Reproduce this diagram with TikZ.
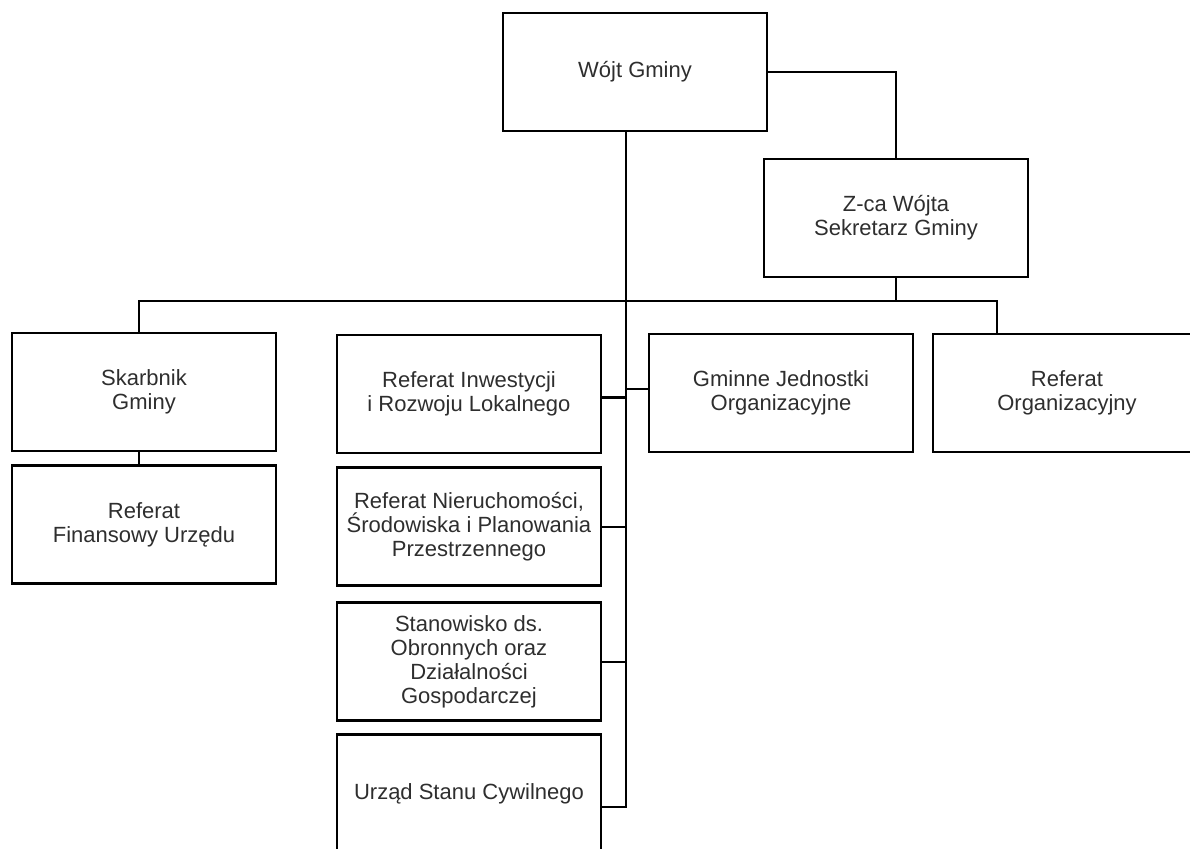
\documentclass[tikz,border=0pt]{standalone}
\usepackage{fontspec}
\setmainfont{Liberation Sans}
\usetikzlibrary{positioning,calc}

\begin{document}
\begin{tikzpicture}[x=0.75pt, y=-0.75pt, node distance=9pt,
  unit/.style={draw, rectangle, line width=2.2pt, align=center, inner sep=2pt,
    minimum width=198pt, minimum height=88.5pt,
    font=\fontsize{16.5}{18}\selectfont, text=black!82},
  link/.style={line width=1.9pt}]
  \useasboundingbox (0,0) rectangle (1190,849);

  % top of the chart
  \node [unit] (wojt) at (635,72) {Wójt Gminy};
  \node [unit] (zca) at (896,218) {Z-ca Wójta\\Sekretarz Gminy};

  % left column
  \node [unit] (skarb) at (144,392) {Skarbnik\\Gminy};
  \node [unit, below=of skarb] (finans) {Referat\\Finansowy Urzędu};

  % column along the trunk
  \node [unit] (inwest) at (469,394) {Referat Inwestycji\\i Rozwoju Lokalnego};
  \node [unit, below=of inwest] (nieruch) {Referat Nieruchomości,\\Środowiska i Planowania\\Przestrzennego};
  \node [unit, below=10.5pt of nieruch] (stanow) {Stanowisko ds.\\Obronnych oraz\\Działalności\\Gospodarczej};
  \node [unit, below=8.3pt of stanow] (usc) {Urząd Stanu Cywilnego};

  % right side
  \node [unit] (gminne) at (781,393) {Gminne Jednostki\\Organizacyjne};
  \node [unit, minimum width=201pt] (reforg) at (1067,393) {Referat\\Organizacyjny};

  \coordinate (trunk) at (626,807);
  \coordinate (busL) at (139,301);
  \coordinate (busR) at (997,301);

  \draw [link] (wojt.south -| trunk) -- (trunk) -- (usc.east |- trunk);
  \draw [link] (wojt.east) -| (zca.north);
  \draw [link] (zca.south) -- (zca.south |- busL);
  \draw [link] (skarb.north -| busL) -- (busL) -- (busR) -- (reforg.north -| busR);
  \draw [link] (skarb.south -| busL) -- (finans.north -| busL);
  \draw [link] ([yshift=-2.6pt]inwest.east) -- ([yshift=-2.6pt]inwest.east -| trunk);
  \draw [link] ([yshift=3pt]gminne.west) -- ([yshift=3pt]gminne.west -| trunk);
  \draw [link] (nieruch.east) -- (nieruch.east -| trunk);
  \draw [link] (stanow.east) -- (stanow.east -| trunk);
\end{tikzpicture}
\end{document}
